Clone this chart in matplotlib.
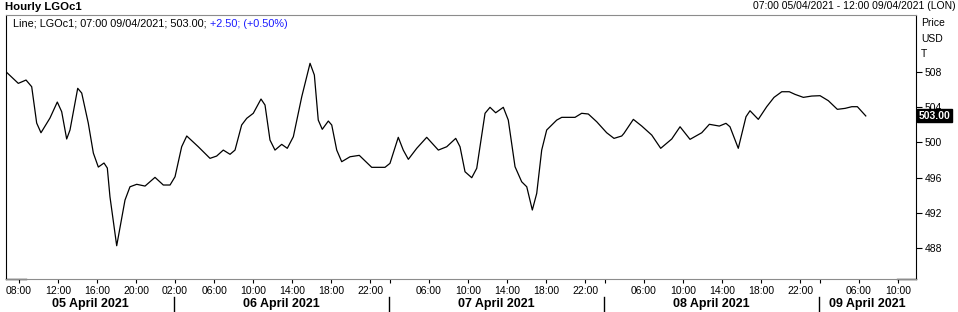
import numpy as np
import matplotlib
matplotlib.use('Agg')
import matplotlib.pyplot as plt

plt.rcParams['font.family'] = ['Liberation Sans', 'DejaVu Sans']

# trading-hour index (07:00 05/04 = 0, hours 23:00 and 00:00 not traded) and price
hours = [0.00, 1.26, 2.05, 2.63, 3.14, 3.58, 4.50, 5.25, 5.70, 6.21, 6.55, 7.34, 7.75, 8.42,
         8.94, 9.45, 10.03, 10.37, 10.64, 11.33, 12.18, 12.69, 13.38, 14.23, 15.25, 16.10,
         16.79, 17.30, 17.98, 18.50, 19.68, 20.88, 21.56, 22.24, 22.93, 23.44, 24.12, 24.64,
         25.31, 26.10, 26.51, 27.02, 27.53, 28.22, 28.79, 29.41, 30.27, 31.12, 31.56, 31.96,
         32.37, 32.99, 33.34, 33.85, 34.36, 35.21, 36.16, 37.43, 38.79, 39.30, 40.15, 40.66,
         41.18, 42.04, 43.06, 44.25, 45.11, 46.03, 46.47, 46.98, 47.67, 48.18, 49.03, 49.54,
         50.12, 50.90, 51.41, 52.10, 52.78, 53.30, 53.87, 54.32, 54.83, 55.34, 56.37, 56.88,
         58.24, 58.92, 59.60, 60.46, 61.48, 62.23, 63.02, 63.25, 64.21, 65.07, 66.09, 67.01,
         68.14, 68.99, 70.01, 71.21, 71.99, 73.01, 73.69, 74.10, 74.95, 75.74, 76.15, 77.00,
         77.86, 78.61, 79.40, 80.17, 80.76, 81.61, 82.47, 83.32, 84.17, 85.09, 85.88, 86.57,
         87.14, 88.00]
price = [508.02, 506.70, 507.08, 506.32, 502.19, 501.09, 502.76, 504.58, 503.48, 500.38, 501.40,
         506.14, 505.60, 502.19, 498.78, 497.19, 497.65, 497.08, 493.82, 488.25, 493.44, 494.95,
         495.23, 495.03, 496.02, 495.15, 495.15, 496.09, 499.50, 500.72, 499.50, 498.18, 498.44,
         499.12, 498.64, 499.12, 501.97, 502.73, 503.30, 504.92, 504.24, 500.26, 499.12, 499.77,
         499.32, 500.64, 505.18, 508.98, 507.65, 502.53, 501.48, 502.42, 501.97, 499.12, 497.80,
         498.36, 498.52, 497.16, 497.16, 497.61, 500.57, 499.12, 498.07, 499.32, 500.57, 499.12,
         499.50, 500.45, 499.50, 496.66, 495.98, 497.05, 503.30, 503.98, 503.36, 503.98, 502.53,
         497.23, 495.52, 494.95, 492.31, 494.20, 499.12, 501.40, 502.53, 502.84, 502.84, 503.30,
         503.22, 502.34, 501.09, 500.45, 500.72, 501.02, 502.61, 501.85, 500.83, 499.32, 500.38,
         501.77, 500.34, 501.09, 502.05, 501.85, 502.16, 501.77, 499.32, 502.91, 503.59, 502.61,
         504.05, 505.11, 505.75, 505.75, 505.45, 505.11, 505.26, 505.30, 504.73, 503.75, 503.86,
         504.05, 504.05, 503.00]

tick_hours = [1, 5, 9, 13, 17, 21, 25, 29, 33, 37, 39, 43, 47, 51, 55, 59,
              61, 65, 69, 73, 77, 81, 83, 87, 91]
tick_labels = ['08:00', '12:00', '16:00', '20:00', '02:00', '06:00', '10:00', '14:00',
               '18:00', '22:00', '', '06:00', '10:00', '14:00', '18:00', '22:00',
               '', '06:00', '10:00', '14:00', '18:00', '22:00', '', '06:00', '10:00']
day_starts = [17, 39, 61, 83]
day_labels = ['05 April 2021', '06 April 2021', '07 April 2021', '08 April 2021', '09 April 2021']
price_ticks = [488, 492, 496, 500, 504, 508]
last_price = 503.00

x_min, x_max = 0, 93.14
tick_shift = 0.3

fig = plt.figure(figsize=(9.58, 3.12), dpi=100)
ax = fig.add_axes([6 / 958, 33 / 312, 910 / 958, 264 / 312])
ax.plot(hours, price, color='black', lw=0.9)
ax.set_xlim(x_min, x_max)
ax.set_ylim(484.47, 514.47)

ax.yaxis.tick_right()
ax.set_yticks(price_ticks)
ax.set_yticklabels([str(p) for p in price_ticks])
ax.tick_params(axis='y', direction='out', length=4, width=0.8, labelsize=7.5, pad=2)
ax.set_xticks(np.array(tick_hours) + tick_shift)
ax.set_xticklabels(tick_labels)
ax.tick_params(axis='x', direction='out', length=3, width=0.8, labelsize=7.5, pad=2)

for side in ['left', 'right']:
    ax.spines[side].set_color('black')
for side in ['top', 'bottom']:
    ax.spines[side].set_color('#8c8c8c')
# short black corner pieces on the bottom edge
ax.plot([0, 20 / 910], [0, 0], color='black', lw=1, transform=ax.transAxes, clip_on=False)
ax.plot([891 / 910, 1], [0, 0], color='black', lw=1, transform=ax.transAxes, clip_on=False)

# day separators and date labels
trans = ax.get_xaxis_transform()
edges = [x_min] + [d + 0.2 for d in day_starts] + [x_max]
for d in day_starts:
    ax.plot([d + 0.2, d + 0.2], [-0.068, -0.125], color='black', lw=1,
            transform=trans, clip_on=False)
for i, lab in enumerate(day_labels):
    ax.text((edges[i] + edges[i + 1]) / 2, -0.093, lab, transform=trans, ha='center',
            va='center', fontsize=9, fontweight='bold')

# headers
fig.text(5 / 958, 1 - 7 / 312, 'Hourly LGOc1', fontsize=8.2, fontweight='bold', va='center')
fig.text(956 / 958, 1 - 6 / 312, '07:00 05/04/2021 - 12:00 09/04/2021 (LON)', fontsize=7.5,
         ha='right', va='center')
t1 = fig.text(13 / 958, 1 - 24 / 312, 'Line; LGOc1; 07:00 09/04/2021; 503.00; ', fontsize=7.8,
              va='center')
fig.canvas.draw()
bb = t1.get_window_extent()
fig.text(bb.x1 / 958, 1 - 24 / 312, '+2.50; (+0.50%)', fontsize=7.8, va='center', color='#1a1aff')

for txt, yy in [('Price', 23), ('USD', 39), ('T', 54)]:
    fig.text(921 / 958, 1 - yy / 312, txt, fontsize=7.5, va='center')

ax.text(1.003, last_price, '%.2f' % last_price, transform=ax.get_yaxis_transform(),
        fontsize=7.5, fontweight='bold', color='white', va='center', ha='left', zorder=5,
        bbox=dict(boxstyle='square,pad=0.15', fc='black', ec='black'))

fig.savefig('out.png', dpi=100)
